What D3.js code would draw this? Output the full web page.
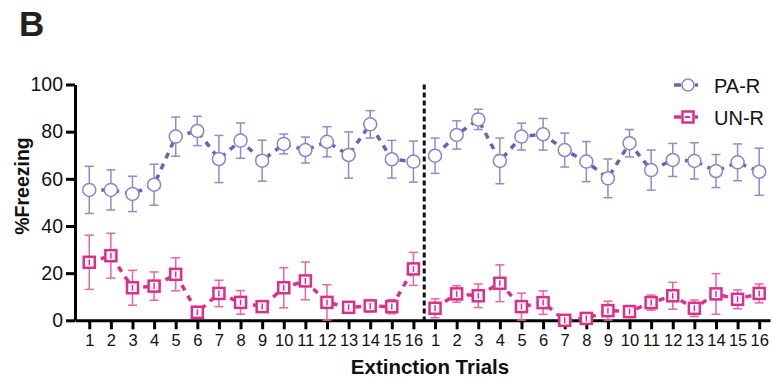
<!DOCTYPE html>
<html>
<head>
<meta charset="utf-8">
<script src="https://cdn.jsdelivr.net/npm/d3@7"></script>
<style>
  body { margin: 0; background: #fff; }
  svg { font-family: "Liberation Sans", Arial, sans-serif; }
</style>
</head>
<body>
<div id="chart"></div>
<script>
// trial labels: two blocks of 16 extinction trials
var trialLabels = ["1","2","3","4","5","6","7","8","9","10","11","12","13","14","15","16",
                   "1","2","3","4","5","6","7","8","9","10","11","12","13","14","15","16"];

var paR = [55.3, 55.3, 53.6, 57.5, 77.9, 80.3, 68.4, 76.2, 67.7, 74.8, 72.2, 75.7, 70.1, 83.1, 68.3, 67.3,
           69.8, 78.6, 85.2, 67.6, 77.9, 78.9, 72.2, 67.3, 60.2, 75.1, 63.7, 68.0, 67.6, 63.3, 67.0, 63.0];
var paRsem = [10, 8.5, 7.5, 8.7, 8.3, 6.2, 10, 7.5, 8.7, 4.2, 5.5, 6.4, 9.8, 5.8, 8, 8.7,
              7.5, 6, 4.3, 9.7, 5.7, 6.7, 7.2, 8.5, 8.2, 5.8, 8.5, 7, 7.7, 7, 7.8, 10];

var unR = [24.6, 27.4, 13.8, 14.5, 19.5, 3.4, 11.4, 7.6, 5.8, 13.8, 16.7, 7.6, 5.5, 6.1, 5.8, 21.8,
           5.1, 11.2, 10.4, 15.7, 5.8, 7.5, 0, 0.8, 4.1, 3.7, 7.5, 10.4, 5.1, 11.2, 8.9, 11.4];
var unRsem = [11.5, 9.5, 7.4, 6, 7, 1.5, 5.6, 5, 2, 8.5, 8, 7.5, 1.5, 2.5, 3, 7,
              4, 3.5, 5, 7.8, 5.7, 5, 1, 1, 4, 2.5, 3.2, 5.7, 3.5, 8.6, 4, 4];

var yTicks = [0, 20, 40, 60, 80, 100];
var seriesNames = ["PA-R", "UN-R"];

var W = 773, H = 381;
var svg = d3.select("#chart").append("svg")
    .attr("width", W)
    .attr("height", H);

var x = d3.scaleLinear().domain([-0.66, 31.5]).range([75, 770]);
var y = d3.scaleLinear().domain([0, 100]).range([320.3, 84.5]);

var series = [
    {name: seriesNames[0], vals: paR, sem: paRsem, line: "#6b62b6", mark: "#8a84cf", err: "#8f8ad2", shape: "circle"},
    {name: seriesNames[1], vals: unR, sem: unRsem, line: "#df2e8a", mark: "#df2e8a", err: "#e865a6", shape: "square"}
];

// panel letter
svg.append("text")
    .attr("x", 19)
    .attr("y", 36)
    .attr("font-size", 35)
    .attr("font-weight", "bold")
    .attr("fill", "#222")
    .text("B");

// divider between the two blocks
svg.append("line")
    .attr("x1", (x(15) + x(16)) / 2)
    .attr("x2", (x(15) + x(16)) / 2)
    .attr("y1", y(100))
    .attr("y2", y(0))
    .attr("stroke", "#111")
    .attr("stroke-width", 3)
    .attr("stroke-dasharray", "5,3");

// axes
var yAxis = d3.axisLeft(y).tickValues(yTicks).tickSize(9).tickSizeOuter(0).tickPadding(3);
var xAxis = d3.axisBottom(x).tickValues(d3.range(32)).tickSize(9).tickSizeOuter(0).tickPadding(5)
    .tickFormat(function (d) { return trialLabels[d]; });

var gx = svg.append("g")
    .attr("transform", "translate(0," + y(0) + ")")
    .call(xAxis);
gx.select(".domain").attr("stroke-width", 3).attr("stroke", "#000");
gx.selectAll(".tick line").attr("stroke-width", 3).attr("stroke", "#000");
gx.selectAll(".tick text").attr("font-size", 16.5).attr("fill", "#111");

var gy = svg.append("g")
    .attr("transform", "translate(" + x.range()[0] + ",0)")
    .call(yAxis);
gy.select(".domain").attr("stroke-width", 3).attr("stroke", "#000");
gy.selectAll(".tick line").attr("stroke-width", 3).attr("stroke", "#000");
gy.selectAll(".tick text").attr("font-size", 19.5).attr("fill", "#111");

// axis titles
svg.append("text")
    .attr("transform", "translate(29,186) rotate(-90)")
    .attr("text-anchor", "middle")
    .attr("font-size", 19.5)
    .attr("font-weight", "bold")
    .attr("fill", "#111")
    .text("%Freezing");

svg.append("text")
    .attr("x", 430)
    .attr("y", 374)
    .attr("text-anchor", "middle")
    .attr("font-size", 20.5)
    .attr("font-weight", "bold")
    .attr("fill", "#111")
    .text("Extinction Trials");

var line = d3.line()
    .x(function (d) { return x(d.i); })
    .y(function (d) { return y(d.v); });

series.forEach(function (s) {
    var pts = s.vals.map(function (v, i) { return {i: i, v: v, e: s.sem[i]}; });
    var g = svg.append("g");

    // dashed connecting lines, one per block
    [pts.slice(0, 16), pts.slice(16)].forEach(function (blk) {
        g.append("path")
            .datum(blk)
            .attr("d", line)
            .attr("fill", "none")
            .attr("stroke", s.line)
            .attr("stroke-width", 3.5)
            .attr("stroke-dasharray", "6,6");
    });

    // error bars
    var eb = g.selectAll(".eb").data(pts).enter().append("g");
    eb.append("line")
        .attr("x1", function (d) { return x(d.i); })
        .attr("x2", function (d) { return x(d.i); })
        .attr("y1", function (d) { return y(d.v + d.e); })
        .attr("y2", function (d) { return y(Math.max(0, d.v - d.e)); })
        .attr("stroke", s.err)
        .attr("stroke-width", 1.5);
    eb.append("line")
        .attr("x1", function (d) { return x(d.i) - 4.5; })
        .attr("x2", function (d) { return x(d.i) + 4.5; })
        .attr("y1", function (d) { return y(d.v + d.e); })
        .attr("y2", function (d) { return y(d.v + d.e); })
        .attr("stroke", s.err)
        .attr("stroke-width", 1.5);
    eb.filter(function (d) { return d.v - d.e > 0; }).append("line")
        .attr("x1", function (d) { return x(d.i) - 4.5; })
        .attr("x2", function (d) { return x(d.i) + 4.5; })
        .attr("y1", function (d) { return y(d.v - d.e); })
        .attr("y2", function (d) { return y(d.v - d.e); })
        .attr("stroke", s.err)
        .attr("stroke-width", 1.5);

    // markers
    if (s.shape == "circle") {
        g.selectAll(".m").data(pts).enter().append("circle")
            .attr("cx", function (d) { return x(d.i); })
            .attr("cy", function (d) { return y(d.v); })
            .attr("r", 6.5)
            .attr("fill", "#fff")
            .attr("stroke", s.mark)
            .attr("stroke-width", 1.5);
    } else {
        g.selectAll(".m").data(pts).enter().append("rect")
            .attr("x", function (d) { return x(d.i) - 5.5; })
            .attr("y", function (d) { return y(d.v) - 5.5; })
            .attr("width", 11)
            .attr("height", 11)
            .attr("fill", "#fff")
            .attr("stroke", s.mark)
            .attr("stroke-width", 2.5);
        g.selectAll(".mi").data(pts).enter().append("line")
            .attr("x1", function (d) { return x(d.i); })
            .attr("x2", function (d) { return x(d.i); })
            .attr("y1", function (d) { return y(d.v) - 3; })
            .attr("y2", function (d) { return y(d.v) + 3; })
            .attr("stroke", s.mark)
            .attr("stroke-width", 1.5);
    }
});

// legend
var legend = svg.append("g").attr("transform", "translate(674,85)");
series.forEach(function (s, k) {
    var lg = legend.append("g").attr("transform", "translate(0," + (k * 32) + ")");
    lg.append("line").attr("x1", 0).attr("x2", 7).attr("y1", 0).attr("y2", 0)
        .attr("stroke", s.line).attr("stroke-width", 3.5);
    lg.append("line").attr("x1", 21).attr("x2", 24).attr("y1", 0).attr("y2", 0)
        .attr("stroke", s.line).attr("stroke-width", 3.5);
    if (s.shape == "circle") {
        lg.append("circle").attr("cx", 14).attr("cy", 0).attr("r", 6)
            .attr("fill", "#fff").attr("stroke", s.mark).attr("stroke-width", 1.5);
    } else {
        lg.append("rect").attr("x", 8.5).attr("y", -5.5).attr("width", 11).attr("height", 11)
            .attr("fill", "#fff").attr("stroke", s.mark).attr("stroke-width", 2.5);
        lg.append("line").attr("x1", 11).attr("x2", 16).attr("y1", 0).attr("y2", 0)
            .attr("stroke", s.mark).attr("stroke-width", 2);
    }
    lg.append("text")
        .attr("x", 40)
        .attr("y", 7.5)
        .attr("font-size", 20)
        .attr("fill", "#111")
        .text(s.name);
});
</script>
</body>
</html>
